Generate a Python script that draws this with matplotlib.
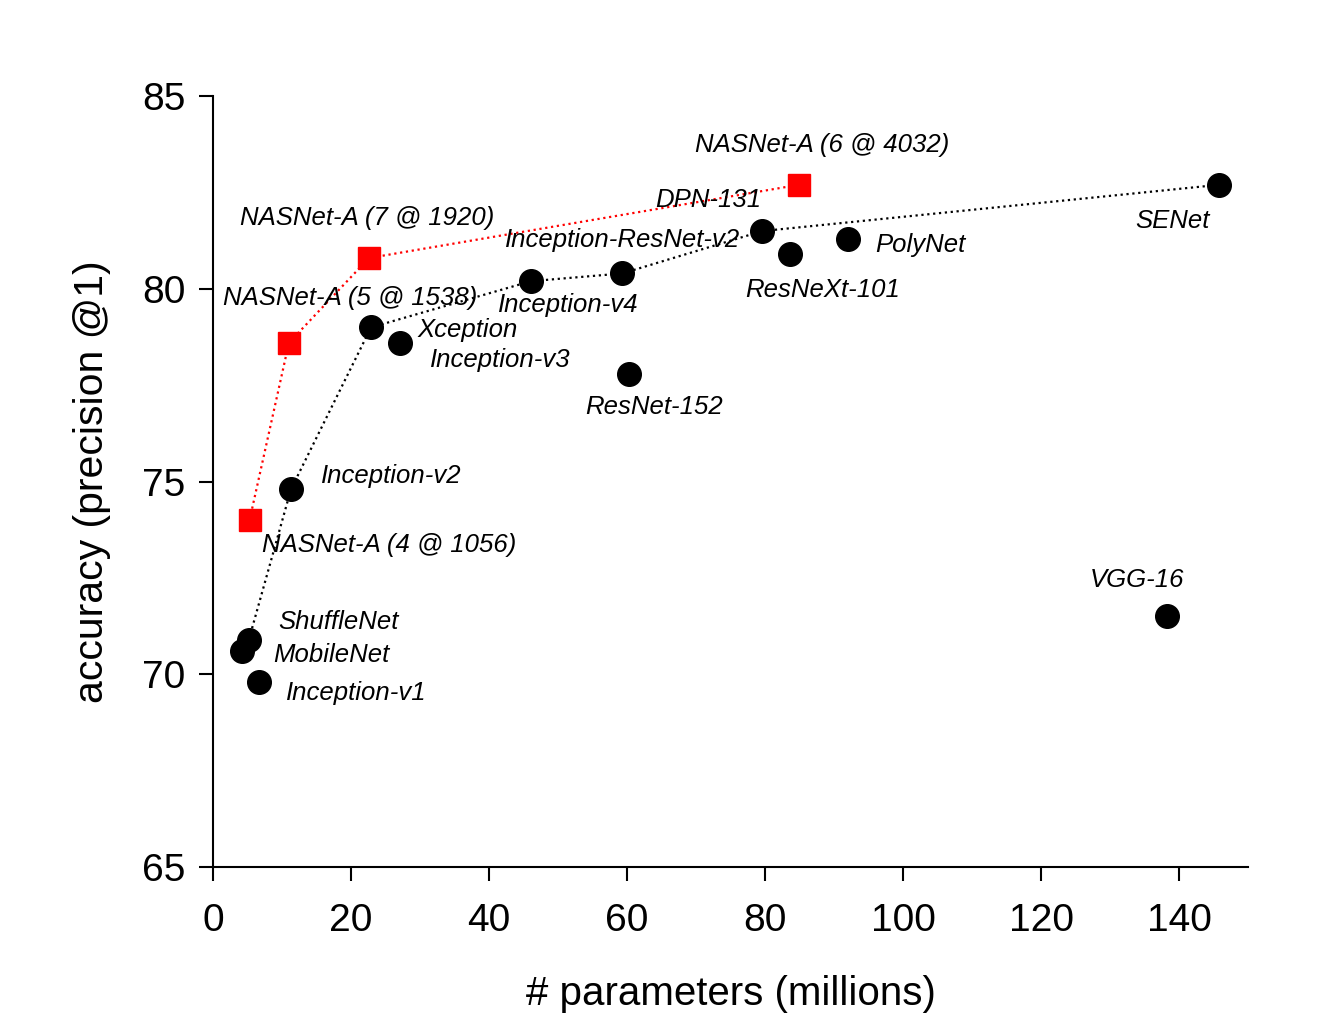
import matplotlib.pyplot as plt

plt.rcParams['font.family'] = ['Liberation Sans', 'DejaVu Sans']

# other models (black circles)
names = ['SENet', 'PolyNet', 'DPN-131', 'ResNeXt-101', 'Inception-ResNet-v2',
         'Inception-v4', 'Xception', 'Inception-v3', 'ResNet-152', 'Inception-v2',
         'VGG-16', 'ShuffleNet', 'MobileNet', 'Inception-v1']
params = [145.8, 92.0, 79.6, 83.6, 59.3, 46.1, 22.9, 27.1, 60.3, 11.3,
          138.3, 5.2, 4.2, 6.7]
acc = [82.7, 81.3, 81.5, 80.9, 80.4, 80.2, 79.0, 78.6, 77.8, 74.8,
       71.5, 70.9, 70.6, 69.8]
label_pos = [(133.6, 81.76), (95.9, 81.13), (64.1, 82.3), (77.1, 79.97),
             (42.3, 81.26), (41.3, 79.58), (29.7, 78.93), (31.4, 78.15),
             (53.9, 76.93), (15.65, 75.14), (127.1, 72.44), (9.4, 71.36),
             (8.7, 70.5), (10.6, 69.51)]

# frontier of the black models, joined by a dotted line
frontier = ['ShuffleNet', 'Inception-v2', 'Xception', 'Inception-v4',
            'Inception-ResNet-v2', 'DPN-131', 'SENet']

# NASNet-A (red squares)
nas_names = ['NASNet-A (4 @ 1056)', 'NASNet-A (5 @ 1538)',
             'NASNet-A (7 @ 1920)', 'NASNet-A (6 @ 4032)']
nas_params = [5.3, 11.0, 22.6, 84.9]
nas_acc = [74.0, 78.6, 80.8, 82.7]
nas_label_pos = [(7.1, 73.35), (1.45, 79.76), (3.9, 81.84), (69.9, 83.73)]

fig = plt.figure(figsize=(13.18, 10.34), dpi=100)
ax = fig.add_axes([0.1616, 0.1615, 0.7854, 0.7455])

fx = [params[names.index(n)] for n in frontier]
fy = [acc[names.index(n)] for n in frontier]
ax.plot(fx, fy, ':', color='black', lw=1.6, zorder=1)
ax.plot(nas_params, nas_acc, ':', color='red', lw=1.6, zorder=1)

ax.plot(params, acc, 'o', color='black', ms=17, ls='none', zorder=3)
ax.plot(nas_params, nas_acc, 's', color='red', ms=15.5, ls='none', zorder=3)

for n, (lx, ly) in zip(names, label_pos):
    ax.text(lx, ly, n, fontsize=18.5, style='italic', va='center', ha='left', zorder=2)
for n, (lx, ly) in zip(nas_names, nas_label_pos):
    ax.text(lx, ly, n, fontsize=18.5, style='italic', va='center', ha='left', zorder=2)

ax.set_xlim(0, 150)
ax.set_ylim(65, 85)
ax.set_xticks([0, 20, 40, 60, 80, 100, 120, 140])
ax.set_yticks([65, 70, 75, 80, 85])
ax.spines['top'].set_visible(False)
ax.spines['right'].set_visible(False)
ax.spines['left'].set_linewidth(1.5)
ax.spines['bottom'].set_linewidth(1.5)
ax.tick_params(direction='out', length=10, width=1.5, labelsize=28)
ax.tick_params(axis='x', pad=16)
ax.tick_params(axis='y', pad=10)

ax.set_xlabel('# parameters (millions)', fontsize=29, labelpad=26)
ax.set_ylabel('accuracy (precision @1)', fontsize=29.5, labelpad=22)

fig.savefig('out.png', dpi=100)
